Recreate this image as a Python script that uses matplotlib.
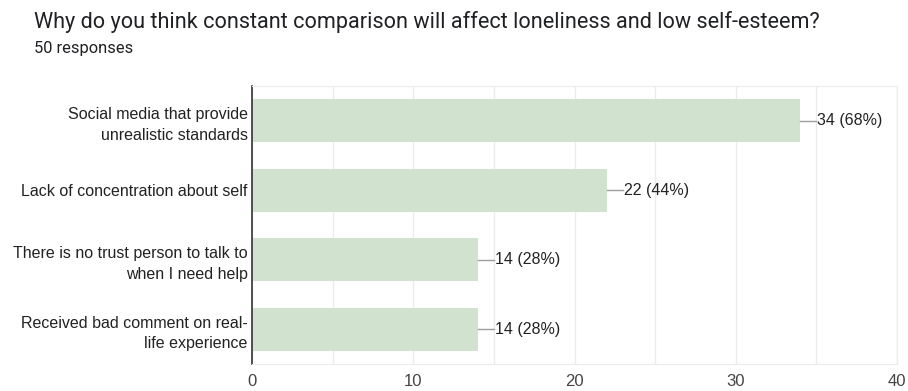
import matplotlib.pyplot as plt

categories = [
    "Social media that provide\nunrealistic standards",
    "Lack of concentration about self",
    "There is no trust person to talk to\nwhen I need help",
    "Received bad comment on real-\nlife experience",
]
counts = [34, 22, 14, 14]
total = 50
x_ticks = [0, 10, 20, 30, 40]

plt.rcParams['font.family'] = ['Roboto', 'DejaVu Sans']
arial = ['Liberation Sans', 'DejaVu Sans']

fig = plt.figure(figsize=(9.08, 3.91), dpi=100)
ax = fig.add_axes([0.2775, 0.069, 0.7105, 0.711])

ypos = list(range(len(categories)))
ax.barh(ypos, counts, height=0.62, color='#d1e2cf', zorder=2)

for y, c in zip(ypos, counts):
    ax.plot([c, c + 1.0], [y, y], color='#9e9e9e', lw=1, zorder=3)
    ax.text(c + 1.05, y, f"{c} ({round(c / total * 100)}%)", va='center', ha='left',
            fontsize=11.5, color='#222222', family=arial)

ax.set_xlim(0, 40)
ax.set_ylim(3.5, -0.5)
ax.set_yticks(ypos)
ax.set_yticklabels(categories, fontsize=11.5, color='#222222', family=arial, linespacing=1.45)
ax.set_xticks(x_ticks)
ax.set_xticklabels([str(t) for t in x_ticks], fontsize=12, color='#444444', family=arial)
ax.set_xticks(range(5, 40, 10), minor=True)
ax.tick_params(axis='both', which='both', length=0)
ax.tick_params(axis='x', pad=7)
ax.tick_params(axis='y', pad=3)
ax.grid(axis='x', which='both', color='#ececec', lw=1, zorder=0)

for side in ['top', 'right', 'bottom']:
    ax.spines[side].set_color('#ececec')
ax.spines['left'].set_color('#333333')
ax.spines['left'].set_linewidth(1.2)

fig.text(0.037, 0.945, "Why do you think constant comparison will affect loneliness and low self-esteem?",
         fontsize=15.6, color='#202124', va='center')
fig.text(0.037, 0.877, "50 responses", fontsize=11.9, color='#202124', va='center')

fig.savefig('out.png', dpi=100)
